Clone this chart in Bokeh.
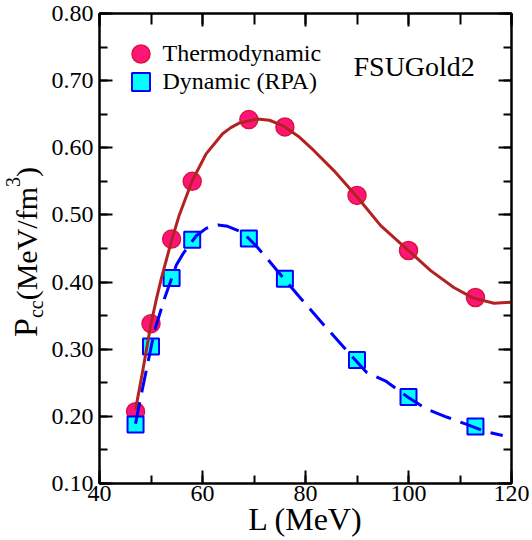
from bokeh.plotting import figure
from bokeh.layouts import row
from bokeh.models import (Label, Legend, LegendItem, LinearAxis, Range1d,
                          SingleIntervalTicker, NumeralTickFormatter,
                          CustomJSTickFormatter, Div)
from bokeh.embed import file_html
from bokeh.resources import INLINE

# ---- data ----
L_points = [47, 50, 54, 58, 69, 76, 90, 100, 113]
P_thermo = [0.207, 0.338, 0.464, 0.550, 0.642, 0.631, 0.529, 0.447, 0.377]
P_rpa = [0.188, 0.304, 0.406, 0.463, 0.465, 0.405, 0.284, 0.229, 0.185]

fit_thermo_L = [47, 48.4, 50, 51, 52, 54, 55.5, 58, 60.7, 63.9, 65.5, 67.2, 70.7,
                73, 75.6, 78.8, 81.6, 85.5, 90, 94.6, 100, 104.3, 108.8, 112.5,
                116.6, 120]
fit_thermo_P = [0.21, 0.268, 0.338, 0.373, 0.405, 0.462, 0.500, 0.551, 0.591,
                0.621, 0.630, 0.637, 0.643, 0.641, 0.633, 0.616, 0.596, 0.566,
                0.527, 0.484, 0.447, 0.417, 0.392, 0.3765, 0.3685, 0.370]

fit_rpa_L = [47, 48.1, 49.4, 50.7, 52.6, 54.9, 56.2, 58.8, 60.7, 63.0, 64.9, 67.8,
             70.4, 72.0, 75.6, 78.8, 83.7, 88.0, 91.8, 95.7, 99.9, 103.5, 107.4,
             111.3, 115.1, 118.3]
fit_rpa_P = [0.189, 0.232, 0.280, 0.328, 0.375, 0.425, 0.442, 0.469, 0.480, 0.485,
             0.483, 0.474, 0.454, 0.440, 0.407, 0.378, 0.335, 0.298, 0.266, 0.252,
             0.2285, 0.211, 0.199, 0.188, 0.177, 0.1715]

legend_labels = ["Thermodynamic", "Dynamic (RPA)"]
model_name = "FSUGold2"
x_title = "L (MeV)"
y_title_parts = ["P", "cc", "(MeV/fm", "3", ")"]

SERIF = "Liberation Serif"
YLAB_W = 48

p = figure(width=532 - YLAB_W, height=540, output_backend="svg",
           toolbar_location=None,
           x_range=Range1d(40, 120), y_range=Range1d(0.1, 0.8),
           min_border_left=99 - YLAB_W, min_border_right=21, min_border_top=13,
           min_border_bottom=57, x_axis_location=None, y_axis_location=None)
p.xgrid.visible = False
p.ygrid.visible = False
p.outline_line_color = "black"
p.outline_line_width = 2
p.background_fill_color = "white"
p.border_fill_color = "white"


def make_axis(ticker, show_labels, fmt=None, major_in=13, minor_in=8):
    ax = LinearAxis(ticker=ticker)
    ax.major_tick_in = major_in
    ax.major_tick_out = 0
    ax.minor_tick_in = minor_in
    ax.minor_tick_out = 0
    ax.axis_line_width = 2
    ax.major_tick_line_width = 2
    ax.minor_tick_line_width = 2
    ax.axis_line_color = "black"
    ax.major_tick_line_color = "black"
    ax.minor_tick_line_color = "black"
    if show_labels:
        if fmt is not None:
            ax.formatter = fmt
        ax.major_label_text_font = SERIF
        ax.major_label_text_font_size = "24px"
        ax.major_label_text_font_style = "normal"
        ax.major_label_text_color = "black"
    else:
        ax.formatter = CustomJSTickFormatter(code="return ''")
        ax.major_label_standoff = 0
    return ax


xb = make_axis(SingleIntervalTicker(interval=20, num_minor_ticks=2), True)
xb.major_label_standoff = 2
xb.axis_label = x_title
xb.axis_label_text_font = SERIF
xb.axis_label_text_font_size = "32px"
xb.axis_label_text_font_style = "normal"
xb.axis_label_text_color = "black"
xb.axis_label_standoff = -3
p.add_layout(xb, "below")
xt = make_axis(SingleIntervalTicker(interval=20, num_minor_ticks=2), False,
               major_in=13, minor_in=11)
p.add_layout(xt, "above")
yl = make_axis(SingleIntervalTicker(interval=0.1, num_minor_ticks=2), True,
               fmt=NumeralTickFormatter(format="0.00"))
yl.major_label_standoff = 6
p.add_layout(yl, "left")
yr = make_axis(SingleIntervalTicker(interval=0.1, num_minor_ticks=2), False)
p.add_layout(yr, "right")

# markers first, lines on top
r_th = p.scatter(L_points, P_thermo, marker="circle", size=18,
                 fill_color="#ff1577", line_color="#dc143c", line_width=1.5)
r_rpa = p.scatter(L_points, P_rpa, marker="square", size=16,
                  fill_color="#00ffff", line_color="#0000ff", line_width=2)
p.line(fit_thermo_L, fit_thermo_P, line_color="#b22222", line_width=3)
p.line(fit_rpa_L, fit_rpa_P, line_color="#0000ff", line_width=3,
       line_dash="22 10")


def make_legend(label, renderer, loc):
    return Legend(items=[LegendItem(label=label, renderers=[renderer])],
                  location=loc, glyph_width=45, glyph_height=45,
                  spacing=0, padding=0, margin=0, label_standoff=0,
                  label_text_font=SERIF, label_text_font_size="24px",
                  label_text_color="black", border_line_color=None,
                  background_fill_alpha=0)


p.add_layout(make_legend(legend_labels[0], r_th, (18.5, 407.5)), "center")
p.add_layout(make_legend(legend_labels[1], r_rpa, (18.5, 379.5)), "center")

p.add_layout(Label(x=254, y=417, x_units="screen", y_units="screen",
                   text=model_name, text_font=SERIF, text_font_size="28px",
                   text_color="black", text_baseline="alphabetic"))

# y axis title: real HTML text with subscript / superscript, rotated
ytxt = (
    '<span style="font-size:34px">%s</span>'
    '<span style="font-size:20px;position:relative;top:6px">%s</span>'
    '%s'
    '<span style="font-size:20px;position:relative;top:-17px">%s</span>'
    '%s' % tuple(y_title_parts)
)
ylab_html = (
    '<div style="position:relative;width:%dpx;height:540px;overflow:visible;">'
    '<div style="position:absolute;left:10.5px;top:337px;'
    'transform-origin:0 0;transform:rotate(-90deg);white-space:nowrap;'
    "font-family:'Liberation Serif';font-size:30px;line-height:30px;"
    'color:#000;margin:0;padding:0;">%s</div></div>' % (YLAB_W, ytxt)
)
ylab = Div(text=ylab_html, width=YLAB_W, height=540, margin=(0, 0, 0, 0))

layout = row(ylab, p)
open("out.html", "w").write(file_html(layout, INLINE))
